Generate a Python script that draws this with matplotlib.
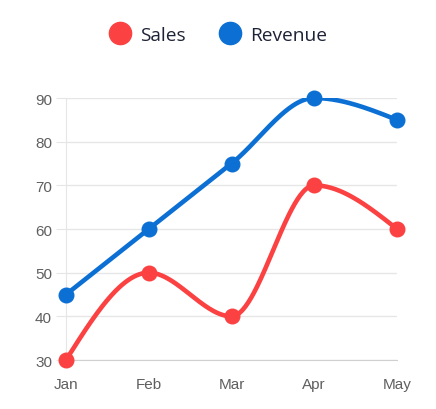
import numpy as np
import matplotlib.pyplot as plt
from matplotlib.lines import Line2D

months = ["Jan", "Feb", "Mar", "Apr", "May"]
sales = [30, 50, 40, 70, 60]
revenue = [45, 60, 75, 90, 85]
yticks = [30, 40, 50, 60, 70, 80, 90]

RED = "#fb4141"
BLUE = "#0b6fd4"


def monotone_curve(y, n=60):
    # monotone cubic (like d3 curveMonotoneX), only for drawing the smooth line
    y = np.asarray(y, dtype=float)
    k = len(y)
    s = np.diff(y)
    t = np.zeros(k)
    for i in range(1, k - 1):
        s0, s1 = s[i - 1], s[i]
        p = (s0 + s1) / 2
        t[i] = (np.sign(s0) + np.sign(s1)) * min(abs(s0), abs(s1), 0.5 * abs(p))
    t[0] = (3 * s[0] - t[1]) / 2
    t[-1] = (3 * s[-1] - t[-2]) / 2
    xs, ys = [], []
    for i in range(k - 1):
        u = np.linspace(0, 1, n)
        h00 = 2 * u**3 - 3 * u**2 + 1
        h10 = u**3 - 2 * u**2 + u
        h01 = -2 * u**3 + 3 * u**2
        h11 = u**3 - u**2
        xs.append(i + u)
        ys.append(h00 * y[i] + h10 * t[i] + h01 * y[i + 1] + h11 * t[i + 1])
    return np.concatenate(xs), np.concatenate(ys)


fig = plt.figure(figsize=(4.36, 4.10), dpi=100)
ax = fig.add_axes([0.1514, 0.1195, 0.7592, 0.639])

x = np.arange(len(months))
for data, color in [(sales, RED), (revenue, BLUE)]:
    xs, ys = monotone_curve(data)
    ax.plot(xs, ys, color=color, lw=3.3, solid_capstyle="round", zorder=3)
    ax.plot(x, data, "o", color=color, ms=10.5, zorder=4, clip_on=False)

ax.set_xlim(0, len(months) - 1)
ax.set_ylim(30, 90)
ax.set_xticks(x)
ax.set_xticklabels(months)
ax.set_yticks(yticks)
ax.grid(axis="y", color="#e6e6e6", lw=1)
ax.set_axisbelow(True)
for s in ["top", "right"]:
    ax.spines[s].set_visible(False)
ax.spines["left"].set_color("#e6e6e6")
ax.spines["bottom"].set_color("#d0d0d0")
for lab in ax.get_xticklabels() + ax.get_yticklabels():
    lab.set_family("Liberation Sans")
ax.tick_params(axis="y", length=7, color="#e6e6e6", labelcolor="#5f5f5f",
               labelsize=11, pad=3)
ax.tick_params(axis="x", length=0, labelcolor="#5f5f5f", labelsize=11, pad=12)

handles = [Line2D([], [], marker="o", ls="", color=RED, ms=16),
           Line2D([], [], marker="o", ls="", color=BLUE, ms=16)]
fig.legend(handles, ["Sales", "Revenue"], loc="center", bbox_to_anchor=(0.49, 0.912),
           ncol=2, frameon=False, prop={"family": "Open Sans", "size": 13.8},
           handletextpad=0.05, columnspacing=1.3, labelcolor="#1e2235")

fig.savefig("out.png", dpi=100, facecolor="white")
